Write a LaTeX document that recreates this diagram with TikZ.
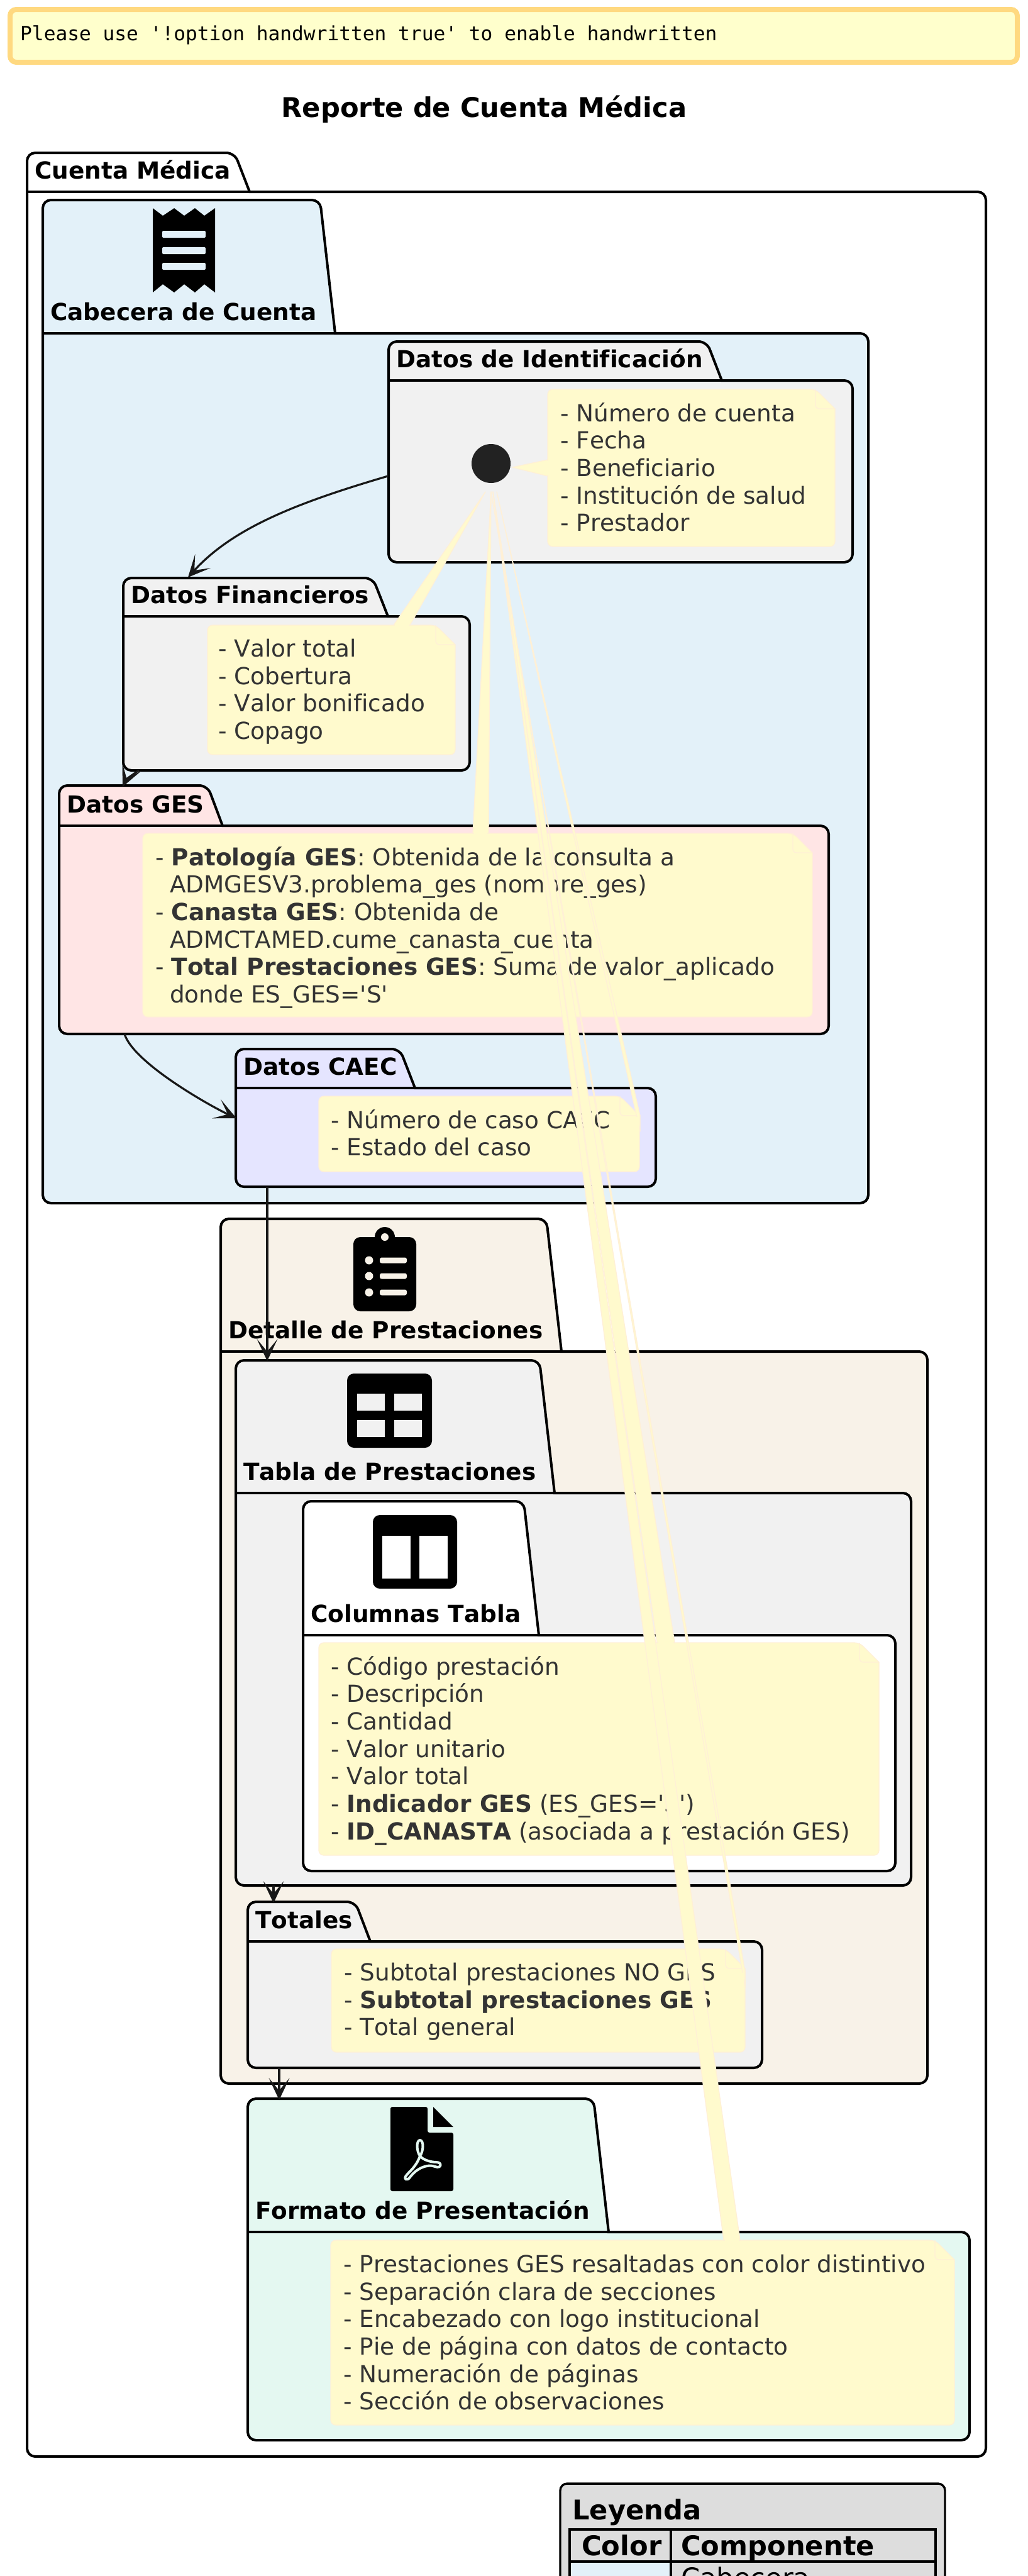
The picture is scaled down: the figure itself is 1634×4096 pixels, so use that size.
\documentclass[tikz,border=0pt]{standalone}
\usepackage{fontspec}
\setmainfont{DejaVu Sans}[Ligatures=NoCommon,Kerning=Off]
\newfontfamily\bannerfont{DejaVu Sans Mono}
\usepackage{xcolor}
\definecolor{cabecera}{RGB}{227,241,249}
\definecolor{detalle}{RGB}{248,242,232}
\definecolor{formato}{RGB}{228,248,241}
\definecolor{gesfill}{RGB}{255,229,229}
\definecolor{caecfill}{RGB}{229,229,255}
\definecolor{grisfill}{RGB}{241,241,241}
\definecolor{notefill}{RGB}{255,250,205}
\definecolor{noteline}{RGB}{255,240,214}
\definecolor{notetxt}{RGB}{51,51,51}
\definecolor{arrowcol}{RGB}{24,24,24}
\usepackage{tikz}
\usetikzlibrary{positioning}
\usetikzlibrary{arrows.meta}
\usetikzlibrary{calc}
% name, title, fill, left, right, tab top, tab line, bottom, tab end
\newcommand{\pkg}[9]{
\draw[pkgline,fill=#3] (#4,#7) [rounded corners=13pt] -- (#4,#6) -- (#9-24,#6) [sharp corners] -- (#9,#7) [rounded corners=13pt] -- (#5,#7) -- (#5,#8) -- (#4,#8) [sharp corners] -- cycle;
\draw[pkgline] (#4,#7) -- (#9,#7);
\node[pkgtitle] (#1) at (#4+12,#7-21) {#2};
}
% left, right, top, bottom
\newcommand{\notebox}[4]{
\draw[notebg] (#1,#3) [rounded corners=8pt] -- (#2-31,#3) [sharp corners] -- (#2,#3+31) [rounded corners=8pt] -- (#2,#4) -- (#1,#4) -- cycle;
\draw[noteedge] (#2-31,#3) [rounded corners=6pt] -- (#2-31,#3+31) [sharp corners] -- (#2,#3+31);
}
\begin{document}
\begin{tikzpicture}[x=1pt,y=-1pt,>={Stealth[length=35pt,width=33pt,inset=20pt,line width=3pt]},
pkgline/.style={draw=black,line width=4pt},
pkgtitle/.style={anchor=base west,inner sep=0pt,font=\fontsize{37.4}{44}\selectfont\bfseries},
notebg/.style={fill=notefill,draw=noteline,line width=1.3pt},
noteedge/.style={draw=noteline,line width=1.3pt},
notetail/.style={fill=notefill,draw=noteline,line width=1.3pt,line join=round},
notetext/.style={anchor=north west,inner sep=0pt,align=left,text=notetxt,font=\fontsize{37.4}{43.65}\selectfont,execute at begin node={\rule{0pt}{30pt}}},
flow/.style={->,draw=arrowcol,fill=none,line width=3.2pt},
legendline/.style={draw=black,line width=3.4pt},
legendtext/.style={anchor=base west,inner sep=0pt,font=\fontsize{43.2}{50}\selectfont}]
\path[use as bounding box,clip] (0,0) rectangle (1634,4096);
\fill[white] (0,0) rectangle (1634,4096);
% warning and title
\draw[draw={rgb,255:red,255;green,217;blue,128},fill={rgb,255:red,255;green,255;blue,204},line width=8pt,rounded corners=10pt] (16,15) rectangle (1618,99);
\node[anchor=base west,inner sep=0pt,font=\bannerfont\fontsize{31.2}{36}\selectfont] (warning) at (32,64) {Please use \textquotesingle!option handwritten true\textquotesingle{} to enable handwritten};
\node[anchor=base,inner sep=0pt,font=\fontsize{43.2}{50}\selectfont\bfseries] (title) at (770,186) {Reporte de Cuenta Médica};
% packages
\pkg{cuenta}{Cuenta Médica}{white}{43}{1568}{243}{305}{3906}{397}
\pkg{cab}{Cabecera de Cuenta}{cabecera}{68}{1381}{318}{530}{1913}{533}
\pkg{ident}{Datos de Identificación}{grisfill}{618}{1356}{543}{605}{894}{1148}
\pkg{fin}{Datos Financieros}{grisfill}{196}{747}{919}{980}{1225}{617}
\pkg{ges}{Datos GES}{gesfill}{94}{1318}{1249}{1313}{1644}{354}
\pkg{caec}{Datos CAEC}{caecfill}{375}{1043}{1668}{1730}{1887}{660}
\pkg{det}{Detalle de Prestaciones}{detalle}{351}{1475}{1938}{2149}{3313}{893}
\pkg{tabla}{Tabla de Prestaciones}{grisfill}{375}{1449}{2163}{2374}{2998}{882}
\pkg{cols}{Columnas Tabla}{white}{482}{1424}{2387}{2600}{2975}{857}
\pkg{tot}{Totales}{grisfill}{394}{1212}{3024}{3087}{3288}{589}
\pkg{fmt}{Formato de Presentación}{formato}{394}{1542}{3337}{3549}{3880}{968}
% icons
\fill[black] (243,331) -- (259,343) -- (277,331) -- (293,343) -- (310,331) -- (325,343) -- (342,331) -- (342,465) -- (325,452) -- (310,465) -- (293,452) -- (277,465) -- (259,452) -- (243,465) -- cycle;
\foreach \ybar in {367,393,418} \fill[cabecera,rounded corners=2pt] (258,\ybar) rectangle (327,\ybar+11);
\fill[black,rounded corners=11pt] (562,1967) rectangle (662,2085);
\fill[black] (612,1967) circle (16pt);
\fill[detalle] (612,1967) circle (6pt);
\foreach \ybar in {2004,2029,2055} {
\fill[detalle] (587,\ybar) circle (6.5pt);
\fill[detalle,rounded corners=3pt] (604,\ybar-4.5) rectangle (647,\ybar+4.5);
}
\fill[black,rounded corners=11pt] (552,2184) rectangle (687,2302);
\foreach \xcell in {568,627} \foreach \ycell in {2216,2258} \fill[grisfill] (\xcell,\ycell) rectangle (\xcell+44,\ycell+27);
\fill[black,rounded corners=11pt] (593,2409) rectangle (727,2526);
\foreach \xcell in {608,667} \fill[white] (\xcell,2442) rectangle (\xcell+45,2510);
\fill[black,rounded corners=3pt] (621,3350) -- (680,3350) -- (680,3391) -- (721,3391) -- (721,3484) -- (621,3484) -- cycle;
\fill[black] (689,3350) -- (721,3382) -- (689,3382) -- cycle;
\draw[formato,line width=4pt,line join=round] (668,3403) .. controls (662,3403) and (662,3420) .. (668,3428) .. controls (662,3445) and (652,3452) .. (647,3458) .. controls (640,3466) and (648,3468) .. (652,3462) .. controls (662,3448) and (680,3440) .. (692,3445) .. controls (702,3449) and (704,3438) .. (694,3438) .. controls (685,3438) and (672,3434) .. (668,3428) .. controls (674,3420) and (674,3403) .. (668,3403) -- cycle;
% start point
\node[circle,fill={rgb,255:red,34;green,34;blue,34},inner sep=0pt,minimum size=62pt] (start) at (781,737) {};
% connectors
\coordinate (identout) at (617,757);
\coordinate (finin) at (299,918);
\coordinate (finout) at (221,1225);
\coordinate (gesin) at (195,1251);
\coordinate (gesout) at (198,1644);
\coordinate (caecin) at (376,1778);
\coordinate (caecout) at (425,1887);
\coordinate (tablain) at (425,2164);
\coordinate (tablaout) at (435,2998);
\coordinate (totin) at (435,3026);
\coordinate (totout) at (444,3288);
\coordinate (fmtin) at (444,3339);
\draw[flow] (identout) .. controls (470,800) and (370,840) .. (finin);
\draw[flow] (finout) .. controls (210,1232) and (200,1240) .. (gesin);
\draw[flow] (gesout) .. controls (212,1690) and (335,1759) .. (caecin);
\draw[flow] (caecout) -- (tablain);
\draw[flow] (tablaout) -- (totin);
\draw[flow] (totout) -- (fmtin);
% notes, each one over the tails before it
\notebox{871}{1328}{619}{869}
\draw[notetail] ($(start)+(34,6)$) -- (871,731) -- (871,757) -- cycle;
\fill[notefill] (870,733) rectangle (873,755);
\node[notetext] (noteident) at (891,640) {- Número de cuenta\\- Fecha\\- Beneficiario\\- Institución de salud\\- Prestador};
\notebox{330}{724}{994}{1200}
\draw[notetail] ($(start)+(-9,45)$) -- (626,994) -- (652,994) -- cycle;
\fill[notefill] (628,992) rectangle (650,997);
\node[notetext] (notefin) at (347,1016) {- Valor total\\- Cobertura\\- Valor bonificado\\- Copago};
\notebox{227}{1292}{1325}{1617}
\draw[notetail] ($(start)+(0,45)$) -- (752,1325) -- (777,1325) -- cycle;
\fill[notefill] (754,1323) rectangle (775,1328);
\node[notetext] (noteges) at (247,1346) {- \textbf{Patología GES}: Obtenida de la consulta a\\\hspace*{23pt}ADMGESV3.problema\_ges (nombre\_ges)\\- \textbf{Canasta GES}: Obtenida de\\\hspace*{23pt}ADMCTAMED.cume\_canasta\_cuenta\\- \textbf{Total Prestaciones GES}: Suma de valor\_aplicado\\\hspace*{23pt}donde ES\_GES=\textquotesingle S\textquotesingle};
\notebox{507}{1017}{1743}{1863}
\draw[notetail] ($(start)+(9,45)$) -- (1018,1774) -- (1018,1799) -- cycle;
\fill[notefill] (1000,1776) rectangle (1016,1797);
\node[notetext] (notecaec) at (526,1764) {- Número de caso CAEC\\- Estado del caso};
\notebox{507}{1398}{2612}{2950}
\draw[notetail] ($(start)+(3,45)$) -- (1045,2612) -- (1073,2612) -- cycle;
\fill[notefill] (1047,2610) rectangle (1071,2615);
\node[notetext] (notecols) at (526,2633) {- Código prestación\\- Descripción\\- Cantidad\\- Valor unitario\\- Valor total\\- \textbf{Indicador GES} (ES\_GES=\textquotesingle S\textquotesingle)\\- \textbf{ID\_CANASTA} (asociada a prestación GES)};
\notebox{527}{1185}{3099}{3263}
\draw[notetail] ($(start)+(0,45)$) -- (1185,3135) -- (1185,3160) -- cycle;
\fill[notefill] (1165,3137) rectangle (1183,3158);
\node[notetext] (notetot) at (547,3121) {- Subtotal prestaciones NO GES\\- \textbf{Subtotal prestaciones GES}\\- Total general};
\notebox{526}{1518}{3562}{3856}
\draw[notetail] ($(start)+(3,45)$) -- (1151,3562) -- (1177,3562) -- cycle;
\fill[notefill] (1153,3560) rectangle (1175,3565);
\node[notetext] (notefmt) at (546,3585) {- Prestaciones GES resaltadas con color distintivo\\- Separación clara de secciones\\- Encabezado con logo institucional\\- Pie de página con datos de contacto\\- Numeración de páginas\\- Sección de observaciones};
% legend, cut by the page
\draw[legendline,fill={rgb,255:red,221;green,221;blue,221},rounded corners=11pt] (891,3949) rectangle (1503,4200);
\node[legendtext,font=\fontsize{43.2}{50}\selectfont\bfseries] (legend) at (910,4006) {Leyenda};
\fill[cabecera] (906,4073) rectangle (1067,4200);
\draw[legendline] (906,4022) rectangle (1488,4200);
\draw[legendline] (906,4073) -- (1488,4073);
\draw[legendline] (1067,4022) -- (1067,4200);
\node[legendtext,font=\fontsize{43.2}{50}\selectfont\bfseries] (legcolor) at (925,4063) {Color};
\node[legendtext,font=\fontsize{43.2}{50}\selectfont\bfseries] (legcomp) at (1083,4063) {Componente};
\node[legendtext] (legcab) at (1083,4114) {Cabecera};
\end{tikzpicture}
\end{document}
